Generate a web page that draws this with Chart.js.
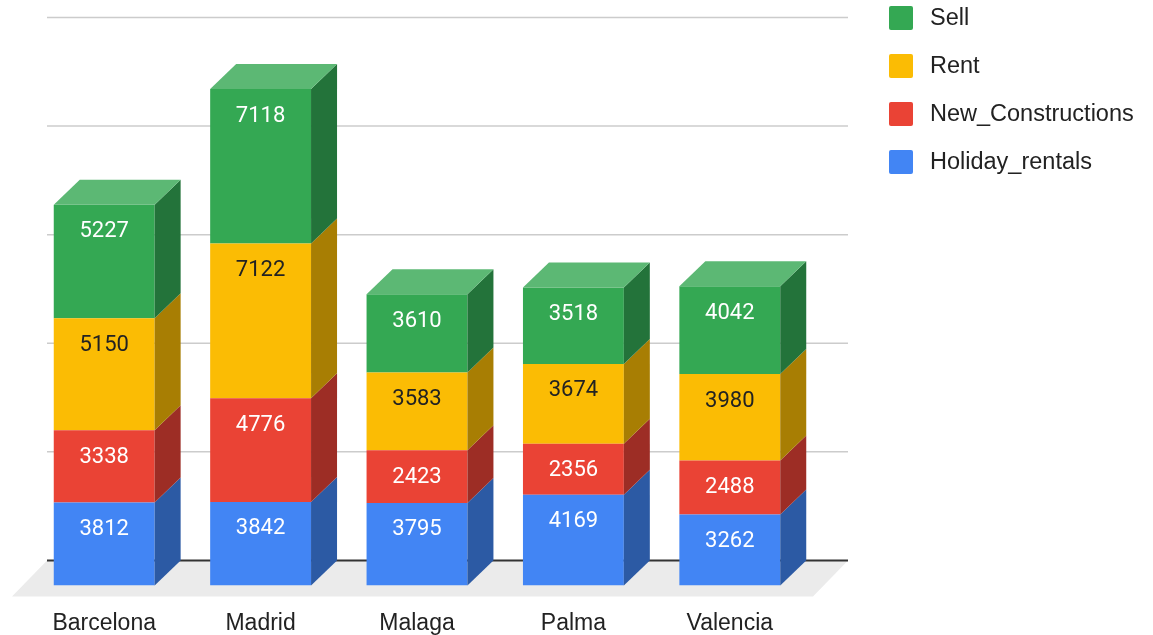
<!DOCTYPE html>
<html>
<head>
<meta charset="utf-8">
<script src="https://cdn.jsdelivr.net/npm/chart.js@4/dist/chart.umd.min.js"></script>
<style>
    html, body { margin: 0; padding: 0; background: #ffffff; }
    canvas { display: block; }
</style>
</head>
<body>
<canvas id="chartListings" width="1153" height="635"></canvas>
<script>
    const cities = ['Barcelona', 'Madrid', 'Malaga', 'Palma', 'Valencia'];
    const holidayRentals = [3812, 3842, 3795, 4169, 3262];
    const newConstructions = [3338, 4776, 2423, 2356, 2488];
    const rent = [5150, 7122, 3583, 3674, 3980];
    const sell = [5227, 7118, 3610, 3518, 4042];
    const gridValues = [0, 5000, 10000, 15000, 20000, 25000];

    // Front, side and top shades for each series
    const palette = {
        Holiday_rentals: { front: '#4285f4', side: '#2c5aa4', top: '#6a9ef6', label: '#ffffff' },
        New_Constructions: { front: '#ea4335', side: '#9d2d25', top: '#ee685d', label: '#ffffff' },
        Rent: { front: '#fbbc04', side: '#a87e03', top: '#fcc936', label: '#222222' },
        Sell: { front: '#34a853', side: '#23733a', top: '#5cb874', label: '#ffffff' }
    };

    // Depth of the extruded bars (pixels right / up)
    const DEPTH_X = 26;
    const DEPTH_Y = 25;

    const backdropPlugin = {
        id: 'backdrop',
        beforeDatasetsDraw(chart) {
            const { ctx, chartArea, scales } = chart;
            const backY = chartArea.bottom - DEPTH_Y;
            const backLeft = chartArea.left + 21;
            const backRight = chartArea.right + 40;
            ctx.save();
            // floor
            ctx.fillStyle = '#ebebeb';
            ctx.beginPath();
            ctx.moveTo(backLeft, backY);
            ctx.lineTo(backRight, backY);
            ctx.lineTo(chartArea.right + 5, chartArea.bottom + 11);
            ctx.lineTo(chartArea.left - 14, chartArea.bottom + 11);
            ctx.closePath();
            ctx.fill();
            // gridlines on the back wall
            gridValues.forEach(value => {
                const y = scales.y.getPixelForValue(value) - DEPTH_Y;
                ctx.beginPath();
                ctx.lineWidth = value === 0 ? 2 : 1.5;
                ctx.strokeStyle = value === 0 ? '#333333' : '#cccccc';
                ctx.moveTo(backLeft, y);
                ctx.lineTo(backRight, y);
                ctx.stroke();
            });
            ctx.restore();
        },
        afterDatasetsDraw(chart) {
            const { ctx } = chart;
            const lastIndex = chart.data.datasets.length - 1;
            ctx.save();
            chart.data.datasets.forEach((dataset, datasetIndex) => {
                const colors = palette[dataset.label];
                chart.getDatasetMeta(datasetIndex).data.forEach(bar => {
                    const left = bar.x - bar.width / 2;
                    const right = bar.x + bar.width / 2;
                    ctx.fillStyle = colors.side;
                    ctx.beginPath();
                    ctx.moveTo(right, bar.y);
                    ctx.lineTo(right + DEPTH_X, bar.y - DEPTH_Y);
                    ctx.lineTo(right + DEPTH_X, bar.base - DEPTH_Y);
                    ctx.lineTo(right, bar.base);
                    ctx.closePath();
                    ctx.fill();
                    if (datasetIndex === lastIndex) {
                        ctx.fillStyle = colors.top;
                        ctx.beginPath();
                        ctx.moveTo(left, bar.y);
                        ctx.lineTo(left + DEPTH_X, bar.y - DEPTH_Y);
                        ctx.lineTo(right + DEPTH_X, bar.y - DEPTH_Y);
                        ctx.lineTo(right, bar.y);
                        ctx.closePath();
                        ctx.fill();
                    }
                });
            });
            // value labels sit a fixed distance below each segment top
            ctx.font = '22px Roboto';
            ctx.textAlign = 'center';
            ctx.textBaseline = 'middle';
            chart.data.datasets.forEach((dataset, datasetIndex) => {
                ctx.fillStyle = palette[dataset.label].label;
                chart.getDatasetMeta(datasetIndex).data.forEach((bar, i) => {
                    ctx.fillText(String(dataset.data[i]), bar.x, bar.y + 27);
                });
            });
            ctx.restore();
        },
        afterDraw(chart) {
            const { ctx } = chart;
            const items = chart.data.datasets.slice().reverse();
            ctx.save();
            ctx.font = '23.5px "Liberation Sans", Arial, sans-serif';
            ctx.textAlign = 'left';
            ctx.textBaseline = 'middle';
            items.forEach((dataset, i) => {
                const cy = 18 + i * 48;
                ctx.fillStyle = palette[dataset.label].front;
                ctx.beginPath();
                ctx.roundRect(889, cy - 12, 24, 24, 2);
                ctx.fill();
                ctx.fillStyle = '#222222';
                ctx.fillText(dataset.label, 930, cy + 1);
            });
            ctx.restore();
        }
    };

    function buildDataset(label, values) {
        return {
            label,
            data: values,
            backgroundColor: palette[label].front,
            borderWidth: 0,
            barPercentage: 0.645,
            categoryPercentage: 1
        };
    }

    new Chart(document.getElementById('chartListings'), {
        type: 'bar',
        data: {
            labels: cities,
            datasets: [
                buildDataset('Holiday_rentals', holidayRentals),
                buildDataset('New_Constructions', newConstructions),
                buildDataset('Rent', rent),
                buildDataset('Sell', sell)
            ]
        },
        options: {
            responsive: false,
            animation: false,
            layout: {
                padding: { left: 26, right: 345, top: 42.5, bottom: -26 }
            },
            plugins: {
                legend: { display: false },
                tooltip: { enabled: false }
            },
            scales: {
                x: {
                    stacked: true,
                    grid: { display: false, drawTicks: false },
                    border: { display: false },
                    ticks: {
                        padding: 24,
                        color: '#222222',
                        font: { family: '"Liberation Sans", Arial, sans-serif', size: 23, lineHeight: 1.2 }
                    }
                },
                y: {
                    display: false,
                    stacked: true,
                    min: 0,
                    max: 25000
                }
            }
        },
        plugins: [backdropPlugin]
    });
</script>
</body>
</html>
